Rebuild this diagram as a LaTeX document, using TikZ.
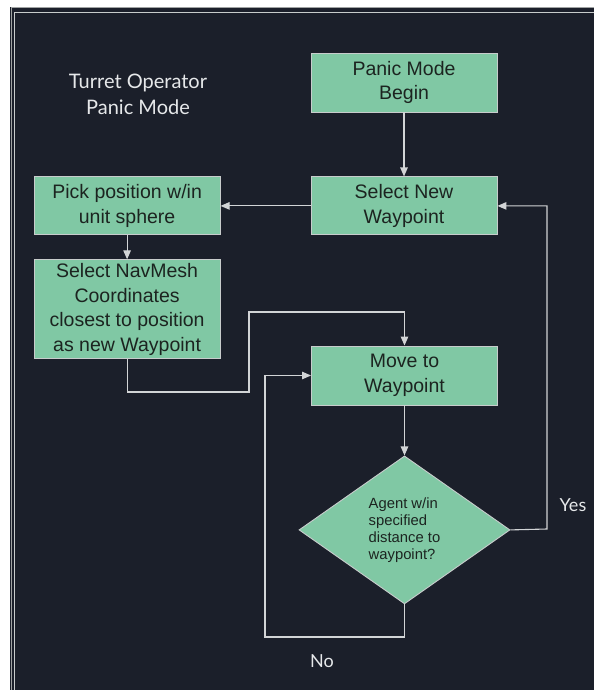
\documentclass[tikz,border=0pt]{standalone}
\usepackage{fontspec}
\setmainfont{Liberation Sans}
\newfontfamily\boxfont{Liberation Sans}
\newfontfamily\notefont{Lato}
\usetikzlibrary{arrows.meta,positioning,shapes.geometric}
\definecolor{PmNight}{HTML}{1B1F2A}
\definecolor{PmMint}{HTML}{80C8A4}
\definecolor{PmEdge}{HTML}{C8CCCC}
\definecolor{PmWire}{HTML}{D2D4D6}
\definecolor{PmInk}{HTML}{1C2420}
\definecolor{PmNote}{HTML}{E6E8EA}
\tikzset{
  pmbox/.style={
    draw=PmEdge,
    fill=PmMint,
    line width=0.9pt,
    minimum width=186pt,
    minimum height=58pt,
    inner sep=0pt,
    align=center,
    text=PmInk,
    font=\boxfont\fontsize{19.5}{24.5}\selectfont
  },
  pmcheck/.style={
    diamond,
    draw=PmEdge,
    fill=PmMint,
    line width=0.9pt,
    minimum width=211pt,
    minimum height=148pt,
    inner sep=0pt,
    align=left,
    text=PmInk,
    font=\fontsize{14.8}{17}\selectfont
  },
  pmnote/.style={
    text=PmNote,
    align=center,
    font=\notefont\fontsize{18}{26}\selectfont
  },
  pmwire/.style={draw=PmWire,line width=1.1pt},
  pmarrow/.style={pmwire,-{Triangle[length=9pt,width=7.5pt]}}
}
\begin{document}
\begin{tikzpicture}[x=1pt,y=-1pt,node distance=24pt]
  % page and dark panel
  \useasboundingbox (0,0) rectangle (594,690);
  \fill[white] (0,0) rectangle (594,690);
  \fill[PmNight] (10,7) rectangle (594,690);
  \draw[PmEdge!80!black,line width=1pt] (11,690) |- (594,8);
  \draw[PmEdge,line width=1pt] (14,690) |- (594,12.5);

  \node[pmnote,font=\notefont\fontsize{20}{26}\selectfont] (title) at (138,94) {Turret Operator\\Panic Mode};

  \node[pmbox,minimum height=59pt] (panic) at (404,82.5) {Panic Mode\\Begin};
  \node[pmbox,below=64pt of panic] (select) {Select New\\Waypoint};
  \node[pmbox,left=90pt of select] (pick) {Pick position w/in\\unit sphere};
  \node[pmbox,below=of pick,minimum height=99pt] (navmesh) {Select NavMesh\\Coordinates\\closest to position\\as new Waypoint};
  \node[pmbox,minimum height=59pt] (move) at (404.5,375.5) {Move to\\Waypoint};
  \node[pmcheck,below=50pt of move] (check) {Agent w/in\\specified\\distance to\\waypoint?};

  \coordinate (navdrop) at (249,392);
  \coordinate (navrise) at (249,312);
  \coordinate (nobend) at (265,637);
  \coordinate (yesbend) at (547,529);

  \node[pmnote] (yes) at (573,505) {Yes};
  \node[pmnote] (no) at (322,661) {No};

  \draw[pmarrow] (panic) -- (select);
  \draw[pmarrow] (select) -- (pick);
  \draw[pmarrow] (pick) -- (navmesh);
  \draw[pmarrow] (navmesh.south) |- (navdrop) -- (navrise) -| (move.north);
  \draw[pmarrow] (move) -- (check);
  \draw[pmarrow] (check.south) |- (nobend) |- (move.west);
  \draw[pmarrow] (check.east) -- (yesbend) |- (select.east);
\end{tikzpicture}
\end{document}
